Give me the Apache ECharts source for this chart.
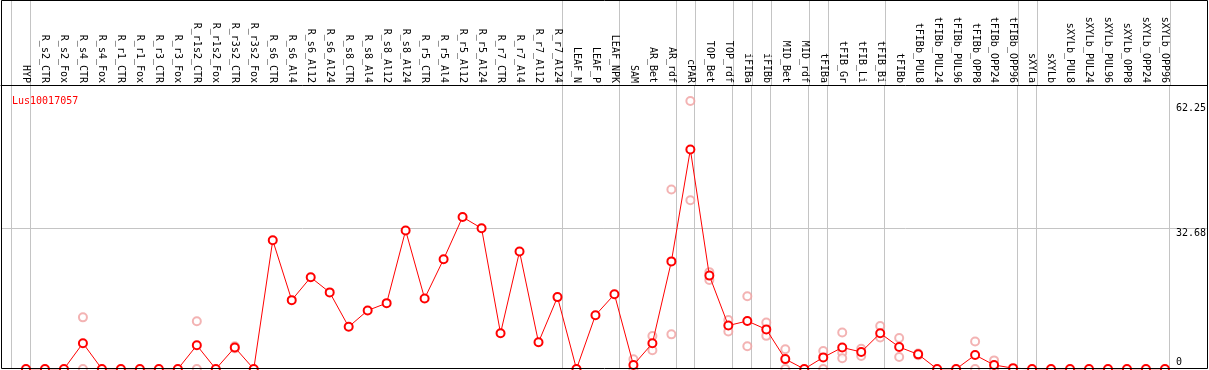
<!DOCTYPE html>
<html>
<head>
<meta charset="utf-8">
<script src="https://cdn.jsdelivr.net/npm/echarts@6/dist/echarts.min.js"></script>
<style>html,body{margin:0;padding:0;background:#fff}#c{width:1209px;height:370px}</style>
</head>
<body>
<div id="c"></div>
<script>
const geneName = 'Lus10017057';
const categories = ['HYP','R_s2_CTR','R_s2_Fox','R_s4_CTR','R_s4_Fox','R_r1_CTR','R_r1_Fox','R_r3_CTR','R_r3_Fox','R_r1s2_CTR','R_r1s2_Fox','R_r3s2_CTR','R_r3s2_Fox',
'R_s6_CTR','R_s6_Al4','R_s6_Al12','R_s6_Al24','R_s8_CTR','R_s8_Al4','R_s8_Al12','R_s8_Al24','R_r5_CTR','R_r5_Al4','R_r5_Al12','R_r5_Al24','R_r7_CTR','R_r7_Al4','R_r7_Al12','R_r7_Al24',
'LEAF_N','LEAF_P','LEAF_NPK','SAM','AR_Bet','AR_rdf','cPAR','TOP_Bet','TOP_rdf','iFIBa','iFIBb','MID_Bet','MID_rdf','tFIBa','tFIB_Gr','tFIB_Li','tFIB_Bi','tFIBb',
'tFIBb_PUL8','tFIBb_PUL24','tFIBb_PUL96','tFIBb_OPP8','tFIBb_OPP24','tFIBb_OPP96','sXYLa','sXYLb','sXYLb_PUL8','sXYLb_PUL24','sXYLb_PUL96','sXYLb_OPP8','sXYLb_OPP24','sXYLb_OPP96'];
const meanValues = [0,0,0,6.0,0,0,0,0,0,5.5,0,5.0,0,
29.9,16.0,21.3,17.8,9.8,13.6,15.3,32.2,16.4,25.5,35.3,32.7,8.3,27.3,6.2,16.7,
0,12.5,17.35,
0.93,5.97,25.0,51.0,21.7,10.1,11.15,9.2,2.3,0,2.7,5.0,3.95,8.3,5.1,3.4,0,0,3.25,0.93,0.2,
0,0,0,0,0,0,0,0];
const rep1 = [null,null,null,12.0,null,null,null,null,null,11.1,null,5.3,null,
null,null,null,null,null,null,null,null,null,null,null,null,null,null,null,null,
null,null,null,
2.25,7.67,41.7,62.25,22.5,11.4,16.9,10.8,4.6,null,4.2,8.5,4.7,10.0,7.2,3.2,null,null,6.4,2.0,null,
null,null,null,null,null,null,null,null];
const rep2 = [null,null,null,0,null,null,null,null,null,0,null,4.8,null,
null,null,null,null,null,null,null,null,null,null,null,null,null,null,null,null,
null,null,null,
0,4.34,8.05,39.2,20.7,8.7,5.3,7.7,0,null,0,3.8,3.0,7.3,2.8,3.6,null,null,0,0,null,
null,null,null,null,null,null,null,null];
const rep3 = [null,null,null,null,null,null,null,null,null,null,null,null,null,
null,null,null,null,null,null,null,null,null,null,null,null,null,null,null,null,
null,null,null,
null,null,null,null,null,null,null,null,null,null,null,2.5,null,null,null,null,null,null,null,null,null,
null,null,null,null,null,null,null,null];
// group separators: drawn just after these category indices
const groupEnds = [-1,0,28,31,34,35,37,38,39,41,42,45,52,53,60];
const yTickLabels = [0, 32.68, 62.25];
const yMaxValue = 62.25;

const MONO = 'DejaVu Sans Mono';
const xMin = -25/19, xMax = 1182/19;
const sepOffset = 0.23;

const repData = [];
[rep1, rep2, rep3].forEach(r => r.forEach((v, i) => { if (v !== null) repData.push([i, v]); }));
const meanData = meanValues.map((v, i) => [i, v]);
const sepLines = groupEnds.map(g => ({ xAxis: g + sepOffset }));
const sepLineStyle = { color: '#c4c4c4', width: 1, type: 'solid' };

const chart = echarts.init(document.getElementById('c'), null, { renderer: 'canvas' });
chart.setOption({
  animation: false,
  backgroundColor: '#fff',
  title: {
    text: geneName, left: 7, top: 91,
    textStyle: { color: '#ff0000', fontSize: 10, fontFamily: MONO, fontWeight: 'normal' }
  },
  graphic: [{
    type: 'rect', z: 100, silent: true,
    shape: { x: 1.5, y: 0.5, width: 1206, height: 368 },
    style: { fill: 'none', stroke: '#000', lineWidth: 1 }
  }],
  grid: [
    { left: 1, right: 1, top: 0, height: 85 },
    { left: 1, right: 1, top: 85, bottom: 1 }
  ],
  xAxis: [
    { gridIndex: 0, type: 'value', min: xMin, max: xMax, show: false },
    { gridIndex: 1, type: 'value', min: xMin, max: xMax, position: 'top',
      axisLine: { show: true, onZero: false, lineStyle: { color: '#000', width: 1 } },
      axisTick: { show: false }, splitLine: { show: false },
      axisLabel: {
        customValues: categories.map((c, i) => i),
        rotate: 90, margin: 2, color: '#000', fontSize: 10, fontFamily: MONO,
        hideOverlap: false,
        formatter: v => categories[Math.round(v)] || ''
      }
    }
  ],
  yAxis: [
    { gridIndex: 0, type: 'value', min: 0, max: 1, show: false },
    { gridIndex: 1, type: 'value', min: 0, max: yMaxValue * 1.06, position: 'right',
      axisLine: { show: false }, axisTick: { show: false }, splitLine: { show: false },
      axisLabel: {
        customValues: yTickLabels, margin: -31, align: 'left', color: '#000',
        fontSize: 10, fontFamily: MONO, showMinLabel: true, showMaxLabel: true,
        formatter: v => v === 0 ? '{b|0}' : (v === yMaxValue ? '{m|' + v + '}' : '{t|' + v + '}'),
        rich: {
          m: { padding: [14, 0, 0, 0], fontSize: 10, fontFamily: MONO, color: '#000' },
          t: { padding: [10, 0, 0, 0], fontSize: 10, fontFamily: MONO, color: '#000' },
          b: { padding: [0, 0, 14, 0], fontSize: 10, fontFamily: MONO, color: '#000' }
        }
      }
    }
  ],
  series: [
    { type: 'scatter', xAxisIndex: 0, yAxisIndex: 0, data: [], silent: true, z: 0,
      markLine: { symbol: ['none', 'none'], silent: true, label: { show: false }, z: 0,
        lineStyle: sepLineStyle, data: sepLines } },
    { type: 'scatter', xAxisIndex: 1, yAxisIndex: 1, data: [], silent: true, z: 0,
      markLine: { symbol: ['none', 'none'], silent: true, label: { show: false }, z: 0,
        lineStyle: sepLineStyle, data: sepLines.concat([{ yAxis: yTickLabels[1] }]) } },
    { type: 'scatter', xAxisIndex: 1, yAxisIndex: 1, data: repData, z: 3,
      symbol: 'emptyCircle', symbolSize: 8,
      itemStyle: { color: '#f0a0a0', borderColor: '#f0a0a0', borderWidth: 1.1 } },
    { type: 'line', xAxisIndex: 1, yAxisIndex: 1, data: meanData, z: 4,
      symbol: 'emptyCircle', symbolSize: 8,
      lineStyle: { color: '#ff0000', width: 1 },
      itemStyle: { color: '#ff0000', borderColor: '#ff0000', borderWidth: 1.3 } }
  ]
});
</script>
</body>
</html>
